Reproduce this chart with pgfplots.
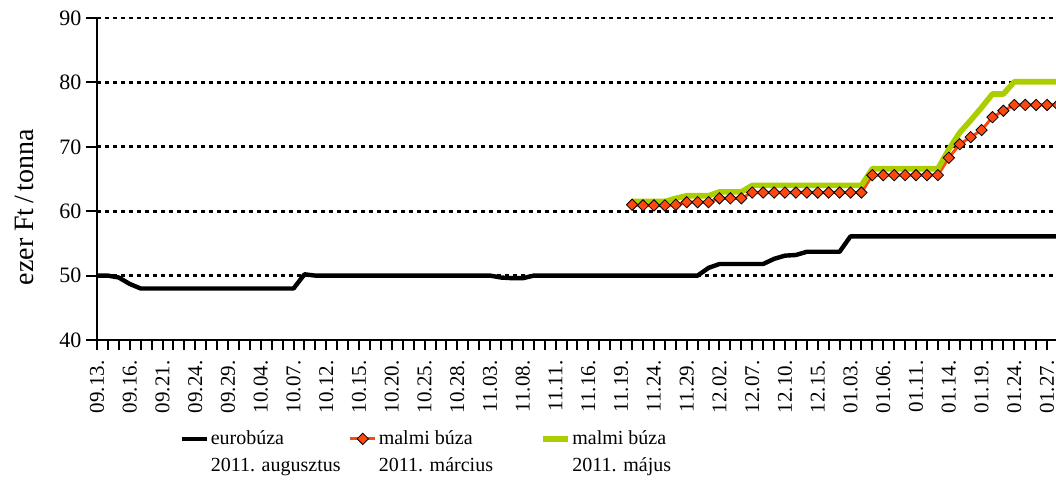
\documentclass[border=0pt]{standalone}
\usepackage{fontspec}
\setmainfont{Liberation Serif}
\usepackage{pgfplots}
\usepackage{pgfplotstable}
\pgfplotsset{compat=1.18}

\definecolor{marcred}{RGB}{255,72,16}
\definecolor{majgreen}{RGB}{170,206,0}

% eurobúza 2011. augusztus (corner points only)
\pgfplotstableread{
x y
0 50
1 50
2 49.7
3 48.7
4 48
18 48
19 50.2
20 50
36 50
37 49.7
38 49.6
39 49.6
40 50
55 50
56 51.2
57 51.8
61 51.8
62 52.6
63 53.1
64 53.2
65 53.7
68 53.7
69 56.1
88 56.1
}\eurotab

% malmi búza 2011. március (every day, marked)
\pgfplotstableread{
x y
49 61.0
50 60.9
51 60.9
52 60.9
53 61.0
54 61.4
55 61.4
56 61.4
57 62.0
58 62.0
59 62.0
60 62.9
61 62.9
62 62.9
63 62.9
64 62.9
65 62.9
66 62.9
67 62.9
68 62.9
69 62.9
70 62.9
71 65.6
72 65.6
73 65.6
74 65.6
75 65.6
76 65.6
77 65.6
78 68.3
79 70.4
80 71.5
81 72.6
82 74.6
83 75.6
84 76.5
85 76.5
86 76.5
87 76.5
88 76.5
}\martab

% malmi búza 2011. május (corner points only)
\pgfplotstableread{
x y
49 61.5
52 61.5
53 62.0
54 62.4
56 62.4
57 63.0
59 63.0
60 64.0
70 64.0
71 66.6
77 66.6
78 69.6
79 72.2
80 74.1
81 76.1
82 78.2
83 78.2
84 80.1
88 80.1
}\majtab

\begin{document}
\begin{tikzpicture}
\useasboundingbox (-48.5pt,-71.5pt) rectangle (479.5pt,170pt);
\begin{axis}[
    scale only axis,
    width=480.5pt, height=161pt,
    xmin=0, xmax=88,
    ymin=40, ymax=90,
    axis x line*=bottom, axis y line*=left,
    axis line style={-, line width=1.2pt},
    tick align=outside,
    tick style={black, line width=1pt},
    ytick={40,50,...,90},
    y tick style={/pgfplots/major tick length=5.5pt},
    x tick style={/pgfplots/major tick length=5pt, /pgfplots/minor tick length=5pt},
    xtick={0,3,...,87},
    minor xtick={0,1,...,88},
    xticklabels={09.13.,09.16.,09.21.,09.24.,09.29.,10.04.,10.07.,10.12.,10.15.,10.20.,
        10.25.,10.28.,11.03.,11.08.,11.11.,11.16.,11.19.,11.24.,11.29.,12.02.,
        12.07.,12.10.,12.15.,01.03.,01.06.,01.11.,01.14.,01.19.,01.24.,01.27.},
    xticklabel shift=2.5pt,
    x tick label style={rotate=90, anchor=east, font=\fontsize{10.5}{12}\selectfont},
    y tick label style={font=\fontsize{11}{13}\selectfont},
    /pgf/number format/assume math mode=true,
    ymajorgrids,
    major grid style={black, line width=1.4pt, dash pattern=on 2pt off 2pt},
    ylabel={ezer Ft\,/\,tonna},
    ylabel style={font=\fontsize{14}{16}\selectfont, at={(axis description cs:-0.076,0.413)}, anchor=center},
    legend columns=3,
    legend style={at={(0,0)}, anchor=north west, xshift=41pt, yshift=-45pt,
        draw=none, fill=none, inner sep=0pt,
        font=\fontsize{10}{13.5}\selectfont,
        nodes={inner xsep=1pt, inner ysep=0pt},
        /tikz/every even column/.append style={column sep=0pt}},
    legend image code/.code={\draw[mark repeat=2,mark phase=2,#1]
        plot coordinates {(0pt,0pt) (6.25pt,0pt) (12.5pt,0pt)};},
]
\addplot[black, line width=2.2pt, line join=round, no markers] table {\eurotab};
\addlegendentry{\parbox[t]{68pt}{eurobúza\\2011. augusztus}}
\addplot[marcred, line width=1.5pt, mark=square*,
    mark options={rotate=45, fill=marcred, draw=black, line width=0.4pt}, mark size=2pt] table {\martab};
\addlegendentry{\parbox[t]{79.5pt}{malmi búza\\2011. március}}
\addplot[majgreen, line width=2.8pt, line join=round, no markers] table {\majtab};
\addlegendentry{\parbox[t]{60pt}{malmi búza\\2011. május}}
\end{axis}
\end{tikzpicture}
\end{document}
